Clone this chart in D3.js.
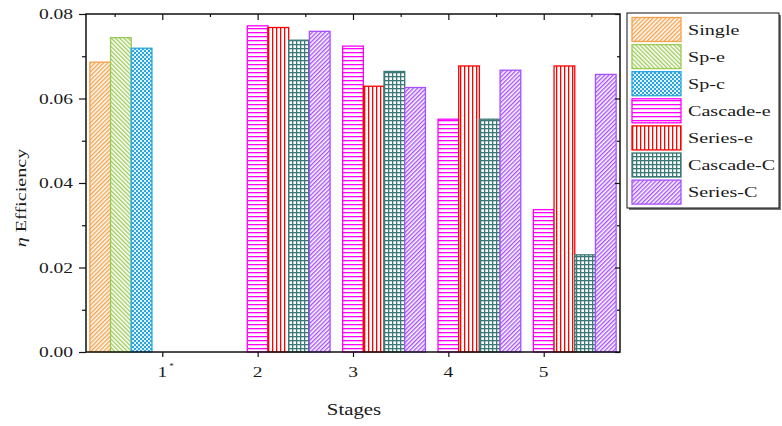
<!DOCTYPE html>
<html>
<head>
<meta charset="utf-8">
<script src="https://cdn.jsdelivr.net/npm/d3@7"></script>
<style>
  html, body { margin: 0; padding: 0; background: #fff; }
  svg { display: block; }
  text { font-family: "Liberation Serif", "DejaVu Serif", serif; fill: #1a1a1a; }
</style>
</head>
<body>
<svg id="chart" width="782" height="426"></svg>
<script>
// Stages on the category axis (stage 1 is marked with an asterisk)
const stages = [1, 2, 3, 4, 5];
const stageLabels = ["1", "2", "3", "4", "5"];
const seriesNames = ["Single", "Sp-e", "Sp-c", "Cascade-e", "Series-e", "Cascade-C", "Series-C"];
const seriesColors = ["#F7A04A", "#9BCB55", "#2AA5DF", "#FF00FF", "#FF0000", "#3A7A76", "#A650FF"];

// Efficiency per series, one value per stage (null = not measured)
const single   = [0.0686, null, null, null, null];
const spE      = [0.0744, null, null, null, null];
const spC      = [0.0719, null, null, null, null];
const cascadeE = [null, 0.0772, 0.0724, 0.0551, 0.0337];
const seriesE  = [null, 0.0768, 0.0629, 0.0677, 0.0677];
const cascadeC = [null, 0.0738, 0.0664, 0.0551, 0.0230];
const seriesC  = [null, 0.0759, 0.0626, 0.0667, 0.0657];
const seriesValues = [single, spE, spC, cascadeE, seriesE, cascadeC, seriesC];

const yTicks = [0, 0.02, 0.04, 0.06, 0.08];
const yMinorTicks = [0.01, 0.03, 0.05, 0.07];

const svg = d3.select("#chart");
const L = 86, R = 620, T = 14, B = 352;
const SX = 1.3; // horizontal stretch of the serif labels

const x = d3.scaleLinear().domain([0.2, 5.8]).range([L, R]);
const y = d3.scaleLinear().domain([0, 0.08]).range([B, T]);
const slot = 0.217; // bar width in category units

// ---- fill patterns ----
const defs = svg.append("defs");
function linePattern(id, color, angle, size, w) {
  const p = defs.append("pattern").attr("id", id)
    .attr("patternUnits", "userSpaceOnUse")
    .attr("width", size).attr("height", size)
    .attr("patternTransform", `rotate(${angle})`);
  p.append("rect").attr("width", size).attr("height", size).attr("fill", "#fff");
  p.append("rect").attr("x", 0).attr("y", 0).attr("width", w).attr("height", size).attr("fill", color);
}
function gridPattern(id, color, size, w) {
  const p = defs.append("pattern").attr("id", id)
    .attr("patternUnits", "userSpaceOnUse").attr("width", size).attr("height", size);
  p.append("rect").attr("width", size).attr("height", size).attr("fill", "#fff");
  p.append("rect").attr("width", w).attr("height", size).attr("fill", color);
  p.append("rect").attr("width", size).attr("height", w).attr("fill", color);
}
function checkerPattern(id, color, c) {
  const p = defs.append("pattern").attr("id", id)
    .attr("patternUnits", "userSpaceOnUse").attr("width", 2 * c).attr("height", 2 * c);
  p.append("rect").attr("width", 2 * c).attr("height", 2 * c).attr("fill", color);
  p.append("rect").attr("width", c).attr("height", c).attr("fill", "#dff2fb");
  p.append("rect").attr("x", c).attr("y", c).attr("width", c).attr("height", c).attr("fill", "#dff2fb");
}
linePattern("p0", seriesColors[0], 45, 3, 1.4);
linePattern("p1", seriesColors[1], -45, 3, 1.3);
checkerPattern("p2", seriesColors[2], 2);
linePattern("p3", seriesColors[3], 90, 4, 1.3);
linePattern("p4", seriesColors[4], 0, 4, 1.3);
gridPattern("p5", seriesColors[5], 4, 1.3);
linePattern("p6", seriesColors[6], 45, 3, 1.4);

// ---- bars ----
const bars = [];
seriesValues.forEach((vals, si) => {
  vals.forEach((v, ci) => {
    if (v !== null) bars.push({ si, stage: stages[ci], v });
  });
});
svg.append("g").selectAll("rect").data(bars).join("rect")
  .attr("x", d => x(d.stage + (d.si - 3.5) * slot))
  .attr("width", d => x(d.stage + (d.si - 2.5) * slot) - x(d.stage + (d.si - 3.5) * slot))
  .attr("y", d => y(d.v))
  .attr("height", d => y(0) - y(d.v))
  .attr("fill", d => `url(#p${d.si})`)
  .attr("stroke", d => seriesColors[d.si])
  .attr("stroke-width", 1.3);

// ---- axes ----
const axisColor = "#111";
function stretchText(g, tx, ty, str, size, anchor) {
  return g.append("text")
    .attr("transform", `translate(${tx},${ty}) scale(${SX},1)`)
    .attr("text-anchor", anchor || "middle")
    .attr("font-size", size)
    .text(str);
}

// left axis (outward ticks)
const gl = svg.append("g").attr("transform", `translate(${L},0)`)
  .call(d3.axisLeft(y).tickValues(yTicks).tickSize(7).tickFormat(""));
gl.select(".domain").remove();
gl.selectAll(".tick line").attr("stroke", axisColor).attr("stroke-width", 1.2);
const glm = svg.append("g").attr("transform", `translate(${L},0)`)
  .call(d3.axisLeft(y).tickValues(yMinorTicks).tickSize(4).tickFormat(""));
glm.select(".domain").remove();
glm.selectAll(".tick line").attr("stroke", axisColor).attr("stroke-width", 1.2);
yTicks.forEach(t => stretchText(svg, 73, y(t) + 5, d3.format(".2f")(t), 15, "end"));

// right axis (inward ticks)
const gr = svg.append("g").attr("transform", `translate(${R},0)`)
  .call(d3.axisLeft(y).tickValues(yTicks).tickSize(5).tickFormat(""));
gr.select(".domain").remove();
gr.selectAll(".tick line").attr("stroke", axisColor).attr("stroke-width", 1.2);
const grm = svg.append("g").attr("transform", `translate(${R},0)`)
  .call(d3.axisLeft(y).tickValues(yMinorTicks).tickSize(3).tickFormat(""));
grm.select(".domain").remove();
grm.selectAll(".tick line").attr("stroke", axisColor).attr("stroke-width", 1.2);

// bottom axis (outward ticks at stages)
const gb = svg.append("g").attr("transform", `translate(0,${B})`)
  .call(d3.axisBottom(x).tickValues(stages).tickSize(5).tickFormat(""));
gb.select(".domain").remove();
gb.selectAll(".tick line").attr("stroke", axisColor).attr("stroke-width", 1.2);
stages.forEach((s, i) => {
  stretchText(svg, x(s), 377, stageLabels[i], 15, "middle");
  if (i === 0) {
    svg.append("text").attr("x", x(s) + 7).attr("y", 369)
      .attr("font-size", 9).text("*");
  }
});

// top axis (inward ticks at stages and half stages)
const gt = svg.append("g").attr("transform", `translate(0,${T})`)
  .call(d3.axisBottom(x).tickValues(stages).tickSize(6).tickFormat(""));
gt.select(".domain").remove();
gt.selectAll(".tick line").attr("stroke", axisColor).attr("stroke-width", 1.2);
const gtm = svg.append("g").attr("transform", `translate(0,${T})`)
  .call(d3.axisBottom(x).tickValues(stages.map(s => s - 0.5).concat([5.5])).tickSize(3).tickFormat(""));
gtm.select(".domain").remove();
gtm.selectAll(".tick line").attr("stroke", axisColor).attr("stroke-width", 1.2);

// frame
svg.append("rect").attr("x", L).attr("y", T).attr("width", R - L).attr("height", B - T)
  .attr("fill", "none").attr("stroke", axisColor).attr("stroke-width", 1.5);

// axis titles
stretchText(svg, 354, 415, "Stages", 16, "middle");
const yt = svg.append("text")
  .attr("transform", `translate(26,198) rotate(-90) scale(${SX},1)`)
  .attr("text-anchor", "middle").attr("font-size", 15.5);
yt.append("tspan").attr("font-style", "italic").text("η");
yt.append("tspan").text(" Efficiency");

// ---- legend ----
const lg = svg.append("g");
lg.append("rect").attr("x", 629).attr("y", 15).attr("width", 152).attr("height", 195).attr("fill", "#777");
lg.append("rect").attr("x", 627).attr("y", 13).attr("width", 152).attr("height", 195)
  .attr("fill", "#fff").attr("stroke", axisColor).attr("stroke-width", 1);
seriesNames.forEach((name, i) => {
  const yy = 17.5 + i * 27.1;
  lg.append("rect").attr("x", 632).attr("y", yy).attr("width", 49).attr("height", 24)
    .attr("fill", `url(#p${i})`).attr("stroke", seriesColors[i]).attr("stroke-width", 1.3);
  stretchText(lg, 688, yy + 17, name, 15.5, "start");
});
</script>
</body>
</html>
